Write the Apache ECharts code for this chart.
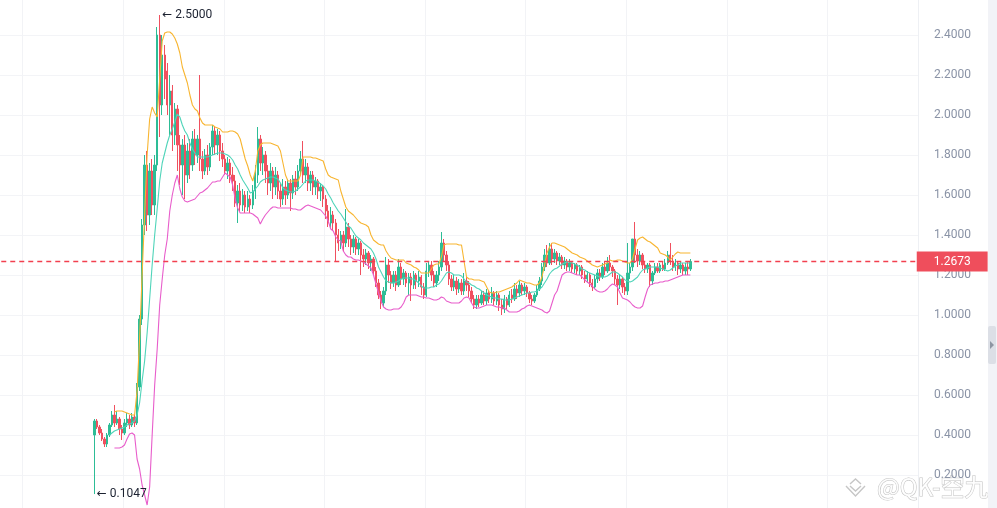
<!DOCTYPE html>
<html><head><meta charset="utf-8">
<style>html,body{margin:0;padding:0;background:#fff;overflow:hidden;width:997px;height:508px}#c{position:absolute;left:0;top:-5px;width:997px;height:520px}</style>
<script src="https://cdn.jsdelivr.net/npm/echarts/dist/echarts.min.js"></script>
</head><body><div id="c"></div>
<script>
// empty slots before the first candle and after the last one
const LEAD = 37, TRAIL = 90;

const opens = [.40,.47,.44,.41,.38,.355,.40,.45,.50,.46,.48,.43,.41,.46,.48,.45,.49,.46,.64,.98,
1.45,1.75,1.50,1.72,1.55,1.75,2.40,2.05,2.30,2.22,2.05,2.12,1.90,2.03,1.85,1.75,1.85,1.70,1.82,1.75,
1.88,1.80,1.88,1.78,1.72,1.80,1.74,1.84,1.92,1.85,1.90,1.82,1.78,1.72,1.76,1.70,1.67,1.56,1.62,1.55,
1.60,1.54,1.58,1.55,1.62,1.70,1.88,1.76,1.80,1.72,1.66,1.72,1.64,1.70,1.62,1.58,1.64,1.60,1.66,1.61,
1.68,1.64,1.72,1.78,1.70,1.74,1.66,1.70,1.64,1.67,1.62,1.64,1.58,1.52,1.46,1.50,1.46,1.40,1.36,1.40,
1.36,1.44,1.38,1.34,1.38,1.33,1.36,1.30,1.28,1.31,1.26,1.28,1.22,1.16,1.10,1.06,1.12,1.25,1.20,1.16,
1.20,1.15,1.24,1.18,1.21,1.16,1.19,1.15,1.20,1.17,1.19,1.14,1.10,1.22,1.25,1.20,1.16,1.20,1.24,1.36,
1.30,1.25,1.18,1.14,1.17,1.13,1.16,1.12,1.17,1.15,1.12,1.08,1.05,1.08,1.06,1.10,1.07,1.11,1.08,1.11,
1.07,1.10,1.05,1.03,1.08,1.05,1.10,1.08,1.13,1.11,1.15,1.12,1.14,1.11,1.08,1.07,1.10,1.13,1.17,1.24,
1.30,1.26,1.33,1.28,1.31,1.27,1.29,1.25,1.27,1.24,1.26,1.23,1.25,1.22,1.24,1.20,1.18,1.20,1.16,1.14,
1.18,1.21,1.19,1.24,1.22,1.26,1.24,1.22,1.18,1.15,1.18,1.14,1.12,1.21,1.24,1.38,1.30,1.27,1.30,1.25,
1.23,1.25,1.17,1.21,1.24,1.22,1.25,1.23,1.26,1.30,1.27,1.24,1.26,1.23,1.25,1.22,1.24,1.23];

const closes = [.47,.44,.41,.38,.355,.40,.45,.50,.46,.48,.43,.41,.46,.48,.45,.49,.46,.64,.98,1.45,
1.75,1.50,1.72,1.55,1.75,2.40,2.05,2.30,2.18,2.05,2.12,1.90,2.03,1.85,1.75,1.85,1.70,1.82,1.75,1.88,
1.80,1.88,1.78,1.72,1.80,1.74,1.84,1.92,1.85,1.90,1.82,1.78,1.72,1.76,1.70,1.67,1.56,1.62,1.55,1.60,
1.54,1.58,1.55,1.62,1.70,1.88,1.76,1.80,1.72,1.66,1.72,1.64,1.70,1.62,1.58,1.64,1.60,1.66,1.61,1.68,
1.64,1.72,1.78,1.70,1.74,1.66,1.70,1.64,1.67,1.62,1.64,1.58,1.52,1.46,1.50,1.46,1.40,1.36,1.40,1.36,
1.44,1.38,1.34,1.38,1.33,1.36,1.30,1.28,1.31,1.26,1.28,1.22,1.16,1.10,1.06,1.12,1.25,1.20,1.16,1.20,
1.15,1.24,1.18,1.21,1.16,1.19,1.15,1.20,1.17,1.19,1.14,1.10,1.22,1.25,1.20,1.16,1.20,1.24,1.36,1.30,
1.25,1.18,1.14,1.17,1.13,1.16,1.12,1.17,1.15,1.12,1.08,1.05,1.08,1.06,1.10,1.07,1.11,1.08,1.11,1.07,
1.10,1.05,1.03,1.08,1.05,1.10,1.08,1.13,1.11,1.15,1.12,1.14,1.11,1.08,1.07,1.10,1.13,1.17,1.24,1.30,
1.26,1.33,1.28,1.31,1.27,1.29,1.25,1.27,1.24,1.26,1.23,1.25,1.22,1.24,1.20,1.18,1.20,1.16,1.14,1.18,
1.21,1.19,1.24,1.22,1.26,1.24,1.22,1.18,1.15,1.18,1.14,1.12,1.21,1.24,1.38,1.30,1.27,1.30,1.25,1.23,
1.25,1.17,1.21,1.24,1.22,1.25,1.23,1.26,1.30,1.27,1.24,1.26,1.23,1.25,1.22,1.24,1.23,1.2673];

const lows = [.1047,.43,.40,.37,.34,.34,.39,.44,.44,.45,.40,.375,.40,.44,.43,.44,.44,.45,.62,.95,
1.40,1.42,1.45,1.50,1.50,1.72,1.89,2.00,2.08,2.00,1.90,1.82,1.85,1.72,1.65,1.60,1.58,1.66,1.68,1.72,
1.75,1.76,1.72,1.68,1.70,1.70,1.72,1.80,1.80,1.80,1.77,1.74,1.70,1.68,1.66,1.62,1.54,1.46,1.52,1.52,
1.51,1.52,1.51,1.53,1.58,1.66,1.72,1.70,1.66,1.60,1.62,1.58,1.60,1.58,1.54,1.55,1.55,1.58,1.52,1.58,
1.60,1.62,1.70,1.66,1.66,1.62,1.62,1.60,1.60,1.58,1.57,1.54,1.48,1.44,1.43,1.42,1.265,1.32,1.33,1.32,
1.34,1.34,1.30,1.31,1.30,1.30,1.20,1.24,1.25,1.23,1.22,1.20,1.14,1.08,1.03,1.04,1.10,1.16,1.13,1.14,
1.12,1.14,1.15,1.15,1.14,1.10,1.07,1.13,1.13,1.14,1.10,1.08,1.09,1.19,1.17,1.14,1.14,1.17,1.22,1.27,
1.22,1.15,1.12,1.12,1.10,1.11,1.10,1.10,1.12,1.09,1.06,1.03,1.03,1.04,1.05,1.05,1.05,1.06,1.06,1.05,
1.05,1.02,1.00,1.01,1.03,1.04,1.06,1.07,1.08,1.09,1.10,1.10,1.09,1.06,1.05,1.06,1.09,1.12,1.15,1.22,
1.24,1.25,1.25,1.26,1.25,1.25,1.23,1.23,1.22,1.22,1.21,1.21,1.20,1.20,1.18,1.16,1.16,1.14,1.12,1.13,
1.16,1.17,1.18,1.20,1.21,1.22,1.19,1.15,1.05,1.13,1.11,1.10,1.10,1.18,1.22,1.26,1.24,1.25,1.23,1.21,
1.21,1.14,1.15,1.20,1.21,1.21,1.22,1.22,1.25,1.25,1.22,1.22,1.20,1.21,1.20,1.20,1.20,1.22];

const highs = [.48,.48,.45,.43,.39,.41,.46,.52,.55,.52,.49,.45,.48,.51,.50,.51,.50,.66,1.00,1.48,
1.80,1.82,1.76,1.78,1.80,2.44,2.50,2.40,2.35,2.26,2.20,2.15,2.06,2.05,1.90,1.88,1.90,1.86,1.88,1.92,
1.93,1.90,2.20,1.82,1.83,1.85,1.86,1.95,1.94,1.93,1.92,1.86,1.80,1.79,1.78,1.74,1.70,1.65,1.66,1.63,
1.62,1.62,1.60,1.65,1.75,1.94,1.90,1.84,1.82,1.75,1.76,1.74,1.74,1.72,1.66,1.68,1.67,1.68,1.68,1.70,
1.72,1.75,1.82,1.87,1.78,1.76,1.72,1.72,1.69,1.68,1.66,1.65,1.60,1.55,1.54,1.52,1.48,1.43,1.42,1.42,
1.53,1.46,1.40,1.40,1.39,1.38,1.37,1.33,1.33,1.32,1.30,1.29,1.24,1.18,1.12,1.14,1.29,1.28,1.22,1.22,
1.22,1.28,1.26,1.23,1.22,1.21,1.21,1.22,1.21,1.22,1.20,1.16,1.26,1.27,1.27,1.22,1.22,1.27,1.415,1.38,
1.32,1.27,1.20,1.20,1.19,1.18,1.18,1.21,1.19,1.17,1.14,1.10,1.10,1.10,1.12,1.12,1.13,1.12,1.14,1.12,
1.12,1.11,1.08,1.10,1.09,1.12,1.13,1.16,1.15,1.17,1.16,1.16,1.15,1.12,1.10,1.11,1.15,1.19,1.26,1.33,
1.35,1.36,1.36,1.33,1.32,1.31,1.30,1.29,1.28,1.28,1.27,1.26,1.26,1.25,1.25,1.22,1.22,1.21,1.18,1.20,
1.23,1.23,1.26,1.27,1.29,1.30,1.25,1.23,1.20,1.20,1.19,1.16,1.36,1.26,1.38,1.465,1.33,1.32,1.31,1.27,
1.26,1.26,1.22,1.26,1.26,1.26,1.27,1.28,1.32,1.36,1.30,1.28,1.27,1.27,1.26,1.26,1.27,1.28];

const upperBand = [null,null,null,null,null,null,null,null,
.515,.52,.52,.52,.515,.51,.505,.50,.50,
.62,.88,1.20,1.50,1.80,1.98,2.04,2.01,1.99,
2.18,2.37,2.41,2.415,2.415,2.405,2.385,2.355,2.31,2.24,
2.20,2.16,2.10,2.05,2.03,2.02,1.985,1.96,1.95,1.95,
1.95,1.95,1.94,1.935,1.93,1.915,1.915,1.915,1.92,1.92,
1.915,1.905,1.88,1.83,1.78,1.745,1.70,1.67,1.72,1.82,
1.85,1.86,1.86,1.86,1.86,1.855,1.85,1.845,1.82,1.76,
1.70,1.67,1.67,1.67,1.67,1.67,1.70,1.79,1.79,1.79,
1.79,1.785,1.785,1.78,1.775,1.77,1.73,1.70,1.69,1.685,
1.68,1.675,1.62,1.58,1.54,1.52,1.51,1.50,1.485,1.47,
1.46,1.455,1.45,1.44,1.40,1.375,1.365,1.355,1.35,1.35,
1.32,1.30,1.285,1.28,1.275,1.275,1.275,1.275,1.26,1.255,
1.25,1.24,1.235,1.225,1.21,1.21,1.21,1.21,1.23,1.25,
1.255,1.255,1.29,1.35,1.355,1.355,1.355,1.355,1.355,1.35,
1.35,1.27,1.19,1.18,1.18,1.175,1.175,1.175,1.17,1.165,
1.14,1.115,1.11,1.11,1.115,1.115,1.12,1.125,1.13,1.135,
1.14,1.15,1.16,1.175,1.17,1.165,1.16,1.16,1.155,1.15,
1.15,1.16,1.19,1.25,1.31,1.34,1.36,1.36,1.355,1.35,
1.345,1.34,1.33,1.32,1.31,1.305,1.30,1.29,1.285,1.28,
1.27,1.26,1.25,1.245,1.24,1.245,1.25,1.255,1.26,1.275,
1.27,1.27,1.275,1.275,1.27,1.265,1.26,1.26,1.28,1.33,
1.375,1.385,1.39,1.38,1.37,1.365,1.355,1.345,1.335,1.31,
1.305,1.30,1.29,1.275,1.29,1.305,1.315,1.31,1.31,1.31,
1.31,1.31];

const middleBand = [null,null,null,null,null,null,
.40,.41,.42,.425,.43,.435,.44,.45,.455,.46,
.47,.50,.56,.67,.77,.91,1.08,1.25,1.40,1.53,
1.67,1.76,1.81,1.86,1.90,1.93,1.965,2.005,1.99,1.95,
1.92,1.90,1.86,1.83,1.81,1.79,1.79,1.79,1.79,1.79,
1.795,1.80,1.805,1.81,1.81,1.81,1.805,1.80,1.79,1.775,
1.75,1.73,1.70,1.675,1.655,1.635,1.61,1.615,1.63,1.645,
1.665,1.675,1.68,1.685,1.69,1.69,1.685,1.68,1.66,1.635,
1.625,1.62,1.615,1.615,1.62,1.63,1.64,1.655,1.67,1.675,
1.675,1.675,1.67,1.665,1.655,1.645,1.63,1.605,1.585,1.56,
1.54,1.52,1.505,1.485,1.465,1.445,1.435,1.415,1.395,1.385,
1.375,1.36,1.35,1.34,1.33,1.31,1.28,1.24,1.215,1.19,
1.17,1.165,1.16,1.16,1.165,1.17,1.18,1.185,1.185,1.185,
1.18,1.18,1.17,1.16,1.145,1.135,1.135,1.135,1.14,1.14,
1.15,1.155,1.17,1.19,1.21,1.215,1.21,1.20,1.20,1.20,
1.195,1.18,1.165,1.16,1.15,1.145,1.135,1.13,1.12,1.11,
1.10,1.095,1.09,1.085,1.085,1.08,1.08,1.075,1.075,1.075,
1.08,1.085,1.09,1.095,1.10,1.105,1.11,1.11,1.115,1.115,
1.12,1.13,1.14,1.16,1.18,1.205,1.22,1.23,1.235,1.245,
1.255,1.26,1.265,1.265,1.26,1.255,1.25,1.24,1.23,1.225,
1.215,1.21,1.205,1.20,1.195,1.19,1.19,1.19,1.195,1.205,
1.215,1.215,1.21,1.20,1.19,1.175,1.17,1.165,1.17,1.18,
1.19,1.21,1.225,1.23,1.235,1.24,1.24,1.24,1.24,1.235,
1.23,1.225,1.22,1.225,1.235,1.245,1.25,1.26,1.26,1.26,
1.26,1.26];

const lowerBand = [null,null,null,null,null,null,null,null,
.335,.335,.335,.34,.35,.38,.405,.41,.40,.28,
.23,.15,.10,.05,.14,.40,.65,.83,1.05,1.18,
1.30,1.38,1.52,1.60,1.66,1.70,1.63,1.59,1.57,1.565,
1.57,1.575,1.58,1.595,1.61,1.615,1.625,1.635,1.65,1.665,
1.665,1.67,1.67,1.69,1.71,1.70,1.69,1.65,1.58,1.535,
1.51,1.51,1.51,1.51,1.51,1.505,1.495,1.485,1.455,1.48,
1.50,1.515,1.53,1.54,1.54,1.535,1.535,1.535,1.535,1.535,
1.535,1.53,1.53,1.525,1.525,1.535,1.545,1.55,1.545,1.54,
1.535,1.53,1.525,1.51,1.495,1.47,1.43,1.42,1.39,1.375,
1.37,1.32,1.30,1.29,1.29,1.28,1.275,1.275,1.27,1.265,
1.255,1.245,1.235,1.20,1.155,1.11,1.07,1.04,1.03,1.025,
1.025,1.03,1.03,1.03,1.04,1.06,1.09,1.10,1.10,1.10,
1.10,1.095,1.09,1.09,1.085,1.085,1.08,1.075,1.075,1.08,
1.09,1.085,1.07,1.065,1.06,1.06,1.06,1.06,1.07,1.085,
1.09,1.085,1.06,1.04,1.035,1.035,1.04,1.045,1.05,1.05,
1.05,1.045,1.04,1.04,1.035,1.035,1.025,1.015,1.015,1.015,
1.015,1.02,1.03,1.035,1.045,1.05,1.045,1.04,1.035,1.03,
1.025,1.015,1.01,1.02,1.06,1.10,1.12,1.16,1.20,1.21,
1.215,1.215,1.21,1.205,1.20,1.20,1.19,1.175,1.165,1.155,
1.145,1.13,1.12,1.115,1.115,1.12,1.13,1.145,1.155,1.15,
1.14,1.11,1.085,1.08,1.075,1.065,1.05,1.04,1.035,1.035,
1.045,1.09,1.13,1.15,1.155,1.16,1.16,1.165,1.165,1.17,
1.17,1.175,1.18,1.185,1.19,1.195,1.20,1.20,1.20,1.20];

const yTicks = { min: 0, max: 2.6, step: 0.2 };

[opens, closes, lows, highs, upperBand, middleBand, lowerBand].forEach((a, i) => {
  if (a.length !== opens.length) throw new Error('length mismatch in array ' + i + ': ' + a.length + ' vs ' + opens.length);
});

const UP = '#2dbd96', DOWN = '#f0505f', PRICE_RED = '#f2404f';
const N = LEAD + opens.length + TRAIL;
const categories = Array.from({ length: N }, (_, i) => 'bar' + i);
const padL = new Array(LEAD).fill('-');
const padR = new Array(TRAIL).fill('-');
const ohlc = opens.map((o, i) => [o, closes[i], lows[i], highs[i]]);
const lastClose = closes[closes.length - 1];
const line = arr => padL.concat(arr.map(v => v === null ? '-' : v), padR);
const priceLevel = categories.map(() => lastClose); // horizontal level of the last close
const FONT = 'Roboto, "DejaVu Sans", sans-serif';
const OY = 5; // chart canvas is offset 5px above the window

const chart = echarts.init(document.getElementById('c'), null, { renderer: 'canvas' });
chart.setOption({
  animation: false,
  backgroundColor: '#ffffff',
  grid: { left: 0, right: 79, top: 0, bottom: 0, containLabel: false },
  xAxis: {
    type: 'category', data: categories, boundaryGap: true,
    axisLine: { show: false }, axisTick: { show: false }, axisLabel: { show: false },
    splitLine: { show: true, interval: (i) => i % 40 === 9, lineStyle: { color: '#f2f3f6', width: 1 } }
  },
  yAxis: {
    type: 'value', position: 'right', min: yTicks.min, max: yTicks.max, interval: yTicks.step,
    axisLine: { show: true, lineStyle: { color: '#eef0f4' } },
    axisTick: { show: false },
    axisLabel: { color: '#8a93a6', fontSize: 12, fontFamily: FONT, margin: 16, showMinLabel: false, showMaxLabel: false, formatter: v => v.toFixed(4) },
    splitLine: { show: true, lineStyle: { color: '#f3f4f7', width: 1 } }
  },
  series: [
    {
      type: 'candlestick', name: 'K',
      data: padL.concat(ohlc, padR),
      barWidth: '75%',
      itemStyle: { color: UP, color0: DOWN, borderColor: UP, borderColor0: DOWN, borderWidth: 1 },
      markPoint: {
        symbol: 'circle', symbolSize: 1, silent: true,
        itemStyle: { color: 'rgba(0,0,0,0)' },
        label: {
          show: true, position: 'right', distance: 2, color: '#1b2130', fontSize: 12, fontFamily: FONT,
          formatter: p => '\u2190 ' + Number(p.value).toFixed(4)
        },
        data: [{ type: 'max', valueDim: 'highest' }, { type: 'min', valueDim: 'lowest' }]
      }
    },
    { type: 'line', name: 'upper', data: line(upperBand), symbol: 'none', lineStyle: { color: '#f8b530', width: 1.1 }, itemStyle: { color: '#f8b530' } },
    { type: 'line', name: 'middle', data: line(middleBand), symbol: 'none', lineStyle: { color: '#4fd4b9', width: 1.1 }, itemStyle: { color: '#4fd4b9' } },
    { type: 'line', name: 'lower', data: line(lowerBand), symbol: 'none', lineStyle: { color: '#e85dcb', width: 1.1 }, itemStyle: { color: '#e85dcb' } },
    {
      type: 'line', name: 'last price', data: priceLevel, symbol: 'none', z: 4,
      color: PRICE_RED,
      itemStyle: { color: PRICE_RED },
      lineStyle: { color: PRICE_RED, type: [5, 4], width: 1.5, opacity: 1 },
      emphasis: { disabled: true },
      endLabel: {
        show: true, distance: 0, color: '#ffffff', backgroundColor: '#ef4e5c',
        padding: [4, 17, 4, 17], fontSize: 12, fontFamily: FONT,
        formatter: p => Number(p.value).toFixed(4)
      }
    }
  ],
  graphic: [
    { type: 'rect', z: 5, silent: true, shape: { x: 988, y: 0, width: 9, height: 520 }, style: { fill: '#f2f3f7' } },
    { type: 'rect', z: 6, silent: true, shape: { x: 988, y: 326 + OY, width: 8, height: 38, r: 2 }, style: { fill: '#dcdfe6' } },
    { type: 'polygon', z: 7, silent: true, shape: { points: [[990, 341 + OY], [990, 349 + OY], [994, 345 + OY]] }, style: { fill: '#8e95a2' } },
    { type: 'polyline', z: -1, silent: true, shape: { points: [[850, 484 + OY], [855.5, 479 + OY], [861, 484 + OY]] }, style: { stroke: '#c6c6c6', lineWidth: 1.4, fill: null } },
    { type: 'polyline', z: -1, silent: true, shape: { points: [[846, 486 + OY], [855.5, 496 + OY], [865, 486 + OY]] }, style: { stroke: '#c6c6c6', lineWidth: 1.4, fill: null } },
    { type: 'polyline', z: -1, silent: true, shape: { points: [[850, 486 + OY], [855.5, 491 + OY], [861, 486 + OY]] }, style: { stroke: '#c6c6c6', lineWidth: 1.4, fill: null } },
    { type: 'text', z: -1, silent: true, style: { x: 877, y: 499 + OY, text: '@QK-空九', textVerticalAlign: 'bottom', font: '24px "Noto Sans CJK SC", "DejaVu Sans", sans-serif', fill: 'rgba(255,255,255,0.9)', stroke: '#c2c2c2', lineWidth: 1 } }
  ]
});
</script>
</body></html>
